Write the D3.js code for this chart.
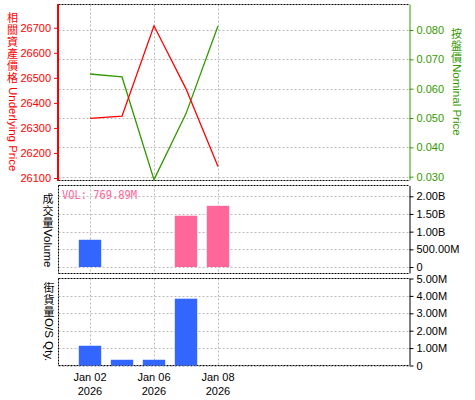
<!DOCTYPE html>
<html><head><meta charset="utf-8">
<script src="https://cdn.jsdelivr.net/npm/d3@7"></script>
<style>
body{margin:0;background:#fff;}
svg{display:block;font-family:"Liberation Sans",Arial,sans-serif;}
</style></head>
<body><svg id="c" width="475" height="400"></svg>
<script>
const dates = ["2026-01-02","2026-01-05","2026-01-06","2026-01-07","2026-01-08"];
const underlying = [26338, 26347, 26708, 26456, 26146];
const nominal = [0.065, 0.064, 0.029, 0.0515, 0.0814];
const volume = [769.89e6, 0, 0, 1.45e9, 1.73e9];
const volDir = ["up","up","up","down","down"];
const qty = [1.135e6, 0.33e6, 0.33e6, 3.84e6, 0];
const xTickDates = ["2026-01-02","2026-01-06","2026-01-08"];
const leftTicks = [26100,26200,26300,26400,26500,26600,26700];
const rightTicks = [0.03,0.04,0.05,0.06,0.07,0.08];
const volTicks = [0,0.5e9,1e9,1.5e9,2e9];
const qtyTicks = [0,1e6,2e6,3e6,4e6,5e6];

const svg = d3.select("#c");
const L = 58.5, R = 409.5;
const x = d3.scaleBand().domain(dates).range([74, 234]).paddingInner(0.3).paddingOuter(0.15);
const cx = d => x(d) + x.bandwidth()/2;
const parse = d3.timeParse("%Y-%m-%d");
const fmtMD = d3.timeFormat("%b %d"), fmtY = d3.timeFormat("%Y");

const yL = d3.scaleLinear().domain([26090, 26793]).range([180.5, 4.5]);
const yR = d3.scaleLinear().domain([0.0287, 0.0887]).range([180.5, 4.5]);
const yV = d3.scaleLinear().domain([-0.184e9, 2.305e9]).range([273.5, 185.5]);
const yQ = d3.scaleLinear().domain([0, 5e6]).range([365.5, 278.5]);

const gridC = "#bbbbbb", red = "#ff0000", green = "#339900", blue = "#3366ff", pink = "#ff6699";

function vgrid(top, bot){
  svg.append("g").selectAll("line").data(xTickDates).join("line")
    .attr("x1", d=>Math.round(cx(d))+0.5).attr("x2", d=>Math.round(cx(d))+0.5)
    .attr("y1", top).attr("y2", bot)
    .attr("stroke", gridC).attr("stroke-dasharray","2,2");
}
function hgrid(scale, ticks){
  svg.append("g").selectAll("line").data(ticks).join("line")
    .attr("x1", L).attr("x2", R)
    .attr("y1", d=>Math.round(scale(d))+0.5).attr("y2", d=>Math.round(scale(d))+0.5)
    .attr("stroke", gridC).attr("stroke-dasharray","2,2");
}
function frame(top, bot){
  [[L,top,R,top],[L,bot,R,bot],[L,top,L,bot]].forEach(a=>{
    svg.append("line").attr("x1",a[0]).attr("y1",a[1]).attr("x2",a[2]).attr("y2",a[3])
      .attr("stroke","#000").attr("stroke-dasharray","2,1");
  });
}
// vertical title: one text element rotated 90deg; CJK glyphs turned back upright
function vtitle(xc, y0, cjk, latin, color, gap){
  const fs = 11, slot = 12, asc = 0.88*fs + (slot-fs)/2;
  const chars = Array.from(cjk);
  const t = svg.append("text")
    .attr("transform", `translate(${xc},${y0}) rotate(90)`)
    .attr("fill", color);
  t.append("tspan")
    .attr("font-family","Noto Sans CJK TC, Noto Sans CJK SC, sans-serif")
    .attr("font-size", fs+"px")
    .attr("x", chars.map((c,i)=> (i*slot + asc).toFixed(2)).join(" "))
    .attr("y", chars.map(()=> (fs/2).toFixed(2)).join(" "))
    .attr("rotate", chars.map(()=> -90).join(" "))
    .text(cjk);
  t.append("tspan")
    .attr("font-family","Liberation Sans, Arial")
    .attr("font-size","11.5px")
    .attr("x", chars.length*slot + gap).attr("y", 4)
    .text(latin);
}

// ---- top panel
vgrid(4.5, 180.5);
hgrid(yR, rightTicks);
frame(4.5, 180.5);
svg.append("line").attr("x1",58).attr("x2",58).attr("y1",4).attr("y2",181).attr("stroke",red).attr("stroke-width",2);

const lineL = d3.line().x((d,i)=>cx(dates[i])).y(d=>yL(d));
const lineR = d3.line().x((d,i)=>cx(dates[i])).y(d=>yR(d));
svg.append("path").attr("d", lineR(nominal)).attr("fill","none").attr("stroke",green).attr("stroke-width",1.3);
svg.append("path").attr("d", lineL(underlying)).attr("fill","none").attr("stroke",red).attr("stroke-width",1.3);

const axL = d3.axisLeft(yL).tickValues(leftTicks).tickSize(3).tickPadding(3).tickFormat(d3.format("d"));
const gL = svg.append("g").attr("transform","translate(57,0)").call(axL);
gL.select(".domain").remove();
gL.selectAll("line").attr("stroke",red);
gL.selectAll("text").attr("fill",red).attr("font-size","11px").attr("font-family","Liberation Sans, Arial");

const axR = d3.axisRight(yR).tickValues(rightTicks).tickSize(4).tickPadding(3).tickFormat(d3.format(".3f"));
const gR = svg.append("g").attr("transform",`translate(${R},0)`).call(axR);
gR.select(".domain").attr("stroke",green).attr("d","M0.5,4.5V180.5");
gR.selectAll("line").attr("stroke",green);
gR.selectAll("text").attr("fill",green).attr("font-size","11px").attr("font-family","Liberation Sans, Arial");

vtitle(12.5, 12, "相關資產價格", "Underlying Price", red, 3);
vtitle(456.5, 28, "按盤價", "Nominal Price", green, 0);

// ---- volume panel
vgrid(185.5, 273.5);
hgrid(yV, volTicks);
frame(185.5, 273.5);
svg.append("g").selectAll("rect").data(volume).join("rect")
  .attr("x",(d,i)=>x(dates[i])).attr("width",x.bandwidth())
  .attr("y",d=>yV(d)).attr("height",d=>Math.max(0,yV(0)-yV(d)))
  .attr("fill",(d,i)=>volDir[i]==="up"?blue:pink);
const volFmt = v => v===0 ? "0" : (v>=1e9 ? d3.format(".2f")(v/1e9)+"B" : d3.format(".2f")(v/1e6)+"M");
const axV = d3.axisRight(yV).tickValues(volTicks).tickSize(4).tickPadding(3).tickFormat(volFmt);
const gV = svg.append("g").attr("transform",`translate(${R},0)`).call(axV);
gV.select(".domain").attr("stroke","#000").attr("d","M0.5,186V273.5");
gV.selectAll("text").attr("fill","#000").attr("font-size","11px").attr("font-family","Liberation Sans, Arial");
svg.append("text").attr("x",62).attr("y",199).attr("fill",pink).attr("font-size","12px")
  .attr("font-family","DejaVu Sans Mono, monospace").attr("textLength",75).attr("lengthAdjust","spacingAndGlyphs")
  .text("VOL: " + volFmt(volume[0]));
vtitle(48, 193, "成交量", "Volume", "#000", 0);

// ---- qty panel
vgrid(278.5, 365.5);
hgrid(yQ, qtyTicks.slice(0,5));
frame(278.5, 365.5);
svg.append("g").selectAll("rect").data(qty).join("rect")
  .attr("x",(d,i)=>x(dates[i])).attr("width",x.bandwidth())
  .attr("y",d=>yQ(d)).attr("height",d=>Math.max(0,yQ(0)-yQ(d)))
  .attr("fill",blue);
const qFmt = v => v===0 ? "0" : d3.format(".2f")(v/1e6)+"M";
const axQ = d3.axisRight(yQ).tickValues(qtyTicks).tickSize(4).tickPadding(3).tickFormat(qFmt);
const gQ = svg.append("g").attr("transform",`translate(${R},0)`).call(axQ);
gQ.select(".domain").attr("stroke","#000").attr("d","M0.5,278.5V365.5");
gQ.selectAll("text").attr("fill","#000").attr("font-size","11px").attr("font-family","Liberation Sans, Arial");
vtitle(49, 282, "街貨量", "O/S Qty.", "#000", 0);

// ---- x labels
const xl = svg.append("g").selectAll("text").data(xTickDates).join("text")
  .attr("text-anchor","middle").attr("font-size","11px").attr("fill","#000");
xl.append("tspan").attr("x",d=>cx(d)).attr("y",381).text(d=>fmtMD(parse(d)));
xl.append("tspan").attr("x",d=>cx(d)).attr("y",395).text(d=>fmtY(parse(d)));
</script></body></html>
